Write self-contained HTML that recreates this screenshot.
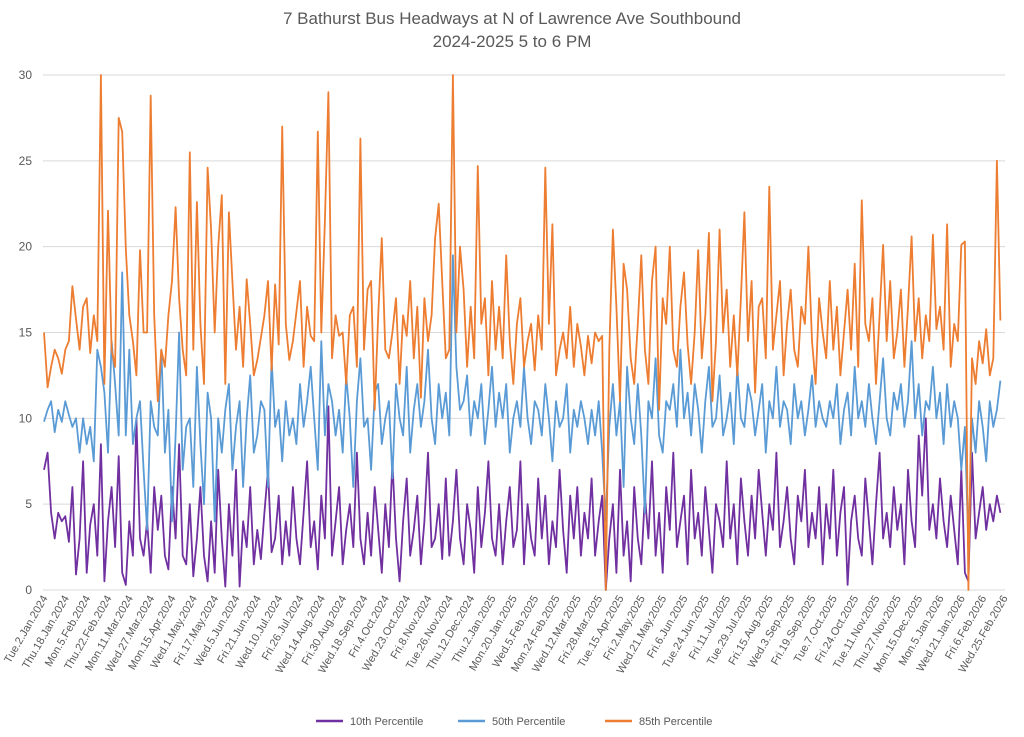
<!DOCTYPE html>
<html><head><meta charset="utf-8"><style>
body{margin:0;background:#fff;font-family:"Liberation Sans",sans-serif}
svg{display:block}
</style></head><body>
<svg id="chart" width="1024" height="737">
<text x="512" y="24" text-anchor="middle" font-size="17" fill="#595959">7 Bathurst Bus Headways at N of Lawrence Ave Southbound</text>
<text x="512" y="47" text-anchor="middle" font-size="17" fill="#595959">2024-2025 5 to 6 PM</text>
<g id="grid"></g><g id="xt"></g><g id="lines"></g>
<g font-size="11" fill="#595959">
<line x1="316" y1="721" x2="343" y2="721" stroke="#7030a0" stroke-width="2.5"/><text x="350" y="725">10th Percentile</text>
<line x1="458" y1="721" x2="485" y2="721" stroke="#5b9bd5" stroke-width="2.5"/><text x="492" y="725">50th Percentile</text>
<line x1="605" y1="721" x2="632" y2="721" stroke="#ed7d31" stroke-width="2.5"/><text x="639" y="725">85th Percentile</text>
</g>
</svg>
<script>
const yTicks=[0,5,10,15,20,25,30];
const tickLabels=["Tue.2.Jan.2024","Thu.18.Jan.2024","Mon.5.Feb.2024","Thu.22.Feb.2024","Mon.11.Mar.2024","Wed.27.Mar.2024","Mon.15.Apr.2024","Wed.1.May.2024","Fri.17.May.2024","Wed.5.Jun.2024","Fri.21.Jun.2024","Wed.10.Jul.2024","Fri.26.Jul.2024","Wed.14.Aug.2024","Fri.30.Aug.2024","Wed.18.Sep.2024","Fri.4.Oct.2024","Wed.23.Oct.2024","Fri.8.Nov.2024","Tue.26.Nov.2024","Thu.12.Dec.2024","Thu.2.Jan.2025","Mon.20.Jan.2025","Wed.5.Feb.2025","Mon.24.Feb.2025","Wed.12.Mar.2025","Fri.28.Mar.2025","Tue.15.Apr.2025","Fri.2.May.2025","Wed.21.May.2025","Fri.6.Jun.2025","Tue.24.Jun.2025","Fri.11.Jul.2025","Tue.29.Jul.2025","Fri.15.Aug.2025","Wed.3.Sep.2025","Fri.19.Sep.2025","Tue.7.Oct.2025","Fri.24.Oct.2025","Tue.11.Nov.2025","Thu.27.Nov.2025","Mon.15.Dec.2025","Mon.5.Jan.2026","Wed.21.Jan.2026","Fri.6.Feb.2026","Wed.25.Feb.2026"];
const p85=[15,11.8,13,14,13.5,12.6,14,14.5,17.7,15.8,14,16.5,17,13.8,16,14.5,30,12,22.1,14,13,27.5,26.7,19.9,16,14.5,12.5,19.8,15,15,28.8,16,11,14,13,16,18,22.3,17,14,12.5,25.5,14,22.6,15.5,12,24.6,21,15,20,23,12,22,18,14,16.5,13,18.1,15.5,12.5,13.4,14.7,16,18,12.8,17.8,14.3,27,15.5,13.4,14.5,16.2,18,13,16.5,14.8,14.5,26.7,15,21.5,29,13.5,16,14.8,15,12,16,16.5,13,26.3,14,17.5,18,10.5,16,20.5,14,13.5,15,17,12,16,14.8,18,13.5,16.5,11.2,17,14.5,16,20.5,22.5,18,13.5,14,30,15,20,17.5,13,16.5,13.5,24.7,15.5,17,12.5,18,14,16.5,13.5,19.5,14.5,12,15.5,17,13,14.5,15.5,12.8,16,14,24.6,15.5,21.3,12.5,14,15,13.5,16.5,13,15.5,14.2,12.5,14.8,13.2,15,14.5,14.8,0,14,21,16.5,11,19,17.5,13.5,12,15.5,19.5,14,12,18,20,10.5,17,15.5,20,14,13,16.5,18.5,14.3,12,15,19.8,13.5,16,20.8,11,14.5,21,15,17.5,13,16,12.5,17,22,14.5,18,11.5,16.5,17,13.5,23.5,14,16,18,12.5,15.5,17.5,14,13,16.5,15.5,20,14.5,12,17,15,13.5,18,14,16.5,12.5,15,17.5,14,19,13,22.7,15.5,14.5,17,12,16,20.1,14.5,18,13.5,15,17.5,13,16.5,20.6,14.5,17,13.5,16,14.5,20.7,15.2,16.5,14,21.3,13,15.5,14.5,20.1,20.3,0,13.5,12,14.5,13.2,15.2,12.5,13.5,25,15.7];
const p50=[9.8,10.5,11,9.2,10.5,9.8,11,10.2,9.5,10,8,10,8.5,9.5,7.5,14,13,11.5,8,14.5,12,9,18.5,9,14,8.5,10,11,7,3.5,11,9.5,9,14,8,10.5,4,9,15,7,9.5,10,6,13,8.5,5,11.5,10,4,10,8,10.5,12,7,9.5,11,6,10,12.5,8,9,11,10.5,6,13.5,9.5,10.5,7.5,11,9,10,8.5,12,9.5,11,13,10,7,14.5,9,12,11,9,10.5,8,12.5,10,6,11,13.5,9.5,10,7,11.5,12,8.5,10,11,6.5,12,10,9,13,8,10.5,12,9.5,11,14,10,8.5,12,10,11.5,9,19.5,13,10.5,11,12.5,9,11,10,12,8.5,10.5,13,9.5,11.5,10,12,8,10,11,9.5,13,10,8.5,11,10.5,9,12,10,7.5,11,9.5,10,12,8,10.5,9.5,11,10,8.5,10.5,9,11,8,4,9.5,12,9,11,6,13,10,8.5,12,9,4.5,11,10,13.5,9,8,11,10.5,12,9.5,14,10,11.5,9,12,10.5,8,11,13,9.5,10,12.5,9,10,11.5,8.5,13,10,9.5,12,11,9,10.5,12,8,11,10,13,9.5,11,10.5,8.5,12,10,11,9,10.5,12.5,9.5,11,10,9.5,11,10,12,8.5,10.5,11.5,9,13,10,11,9.5,12,10,8.5,11,13.5,10,9,11.5,10.5,12,9.5,11,14.5,10,12,9,11,10.5,13,10,11.5,8.5,12,9.5,11,10,7,9.5,2.5,10,8,11,9.5,7.5,11,9.5,10.5,12.2];
const p10=[7,8,4.5,3,4.5,4,4.3,2.8,6,0.9,3,7.5,1,3.8,5,2,8.5,0.5,4,6,2.5,7.8,1,0.3,4,2,10,3,2,4,1,6,3.5,5.5,2,1.2,6,3,8.5,2,1.5,5,0.8,3,6,2,0.5,4,1,7,3,0.2,5,2,7,0.2,4,2.5,6,1.5,3.5,1.8,4.5,7,2.2,3,5.5,1.5,4,2,6,3,1.5,4.5,7.5,2.5,4,1.2,5.5,3,10.7,2,4,6,1.5,3.5,5,2.5,8,3,1.5,4.5,2,6,3.5,1,5,2.5,7.5,3,0.5,4,6.5,2,3.5,5.5,1.5,4,8,2.5,3,5,1.8,6.5,2,4,7,3,1.5,5,3.5,1,6,2.5,4.5,7.5,3,2,5,1.5,4,6,2.5,3.5,7.5,1.5,5,3,2,6.5,3,5.5,1.5,4,2.5,7,3.5,1,5.5,3,6,2,4.5,3,6.5,2,4,5.5,0,3,5,1,7,2,4,0.5,6,3,1.5,5.5,3,7.5,2,4.5,1,6,3.5,8,2.5,4,5.5,1.5,7,3,4.5,2,6,3.5,1,5,4,2.5,7.5,3,5,1.5,6.5,4,2,5.5,3,7,4.5,2,5,3.5,8,2.5,4,6,3,1.5,5.5,4,7,2.5,4.5,3,6,1.5,5,3,7,2,4.5,6,0.3,4,5.5,3,2,6.5,4,1.5,5,8,3,4.5,2.5,6,3.5,5,1.5,7,4,2.5,9,5.5,10,3.5,5,3,6.5,4,2.5,5.5,3.5,1.5,7,1,0.5,8,3,4.5,6,3.5,5,4,5.5,4.5];

const NS='http://www.w3.org/2000/svg';
const X0=44,X1=1004,Y0=590,Y1=75;
const xS=i=>X0+i*(X1-X0)/270;
const yS=v=>Y0-(v/30)*(Y0-Y1);
const grid=document.getElementById('grid');
yTicks.forEach(t=>{
  const l=document.createElementNS(NS,'line');
  l.setAttribute('x1',43);l.setAttribute('x2',1005);
  l.setAttribute('y1',yS(t));l.setAttribute('y2',yS(t));
  l.setAttribute('stroke','#d9d9d9');l.setAttribute('stroke-width',1);
  
  
  grid.appendChild(l);
  const tx=document.createElementNS(NS,'text');
  tx.setAttribute('x',32);tx.setAttribute('y',yS(t)+4);
  tx.setAttribute('text-anchor','end');tx.setAttribute('font-size','12');tx.setAttribute('fill','#595959');
  tx.textContent=t;
  
  
  grid.appendChild(tx);
});
const xt=document.getElementById('xt');
tickLabels.forEach((s,k)=>{
  const x=xS(k*6)+4,y=598;
  const tx=document.createElementNS(NS,'text');
  tx.setAttribute('x',x);tx.setAttribute('y',y);
  tx.setAttribute('text-anchor','end');tx.setAttribute('font-size','11');tx.setAttribute('fill','#595959');
  tx.setAttribute('transform','rotate(-60 '+x+' '+y+')');
  tx.textContent=s;
  
  
  xt.appendChild(tx);
});
const lines=document.getElementById('lines');
[[p10,'#7030a0','line-10th-percentile'],[p50,'#5b9bd5','line-50th-percentile'],[p85,'#ed7d31','line-85th-percentile']].forEach(([arr,c,n])=>{
  const p=document.createElementNS(NS,'polyline');
  p.setAttribute('points',arr.map((v,i)=>xS(i).toFixed(1)+','+yS(v).toFixed(1)).join(' '));
  p.setAttribute('fill','none');p.setAttribute('stroke',c);p.setAttribute('stroke-width','1.8');p.setAttribute('stroke-linejoin','round');
  
  
  lines.appendChild(p);
});
</script>
</body></html>
